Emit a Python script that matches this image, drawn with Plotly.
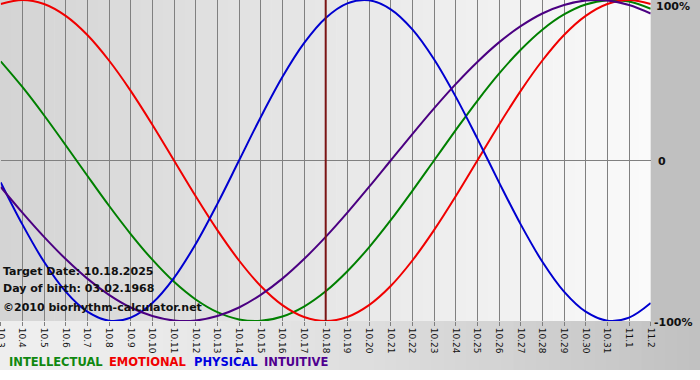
import plotly.graph_objects as go

W, H = 700, 380

labels = ["10.3", "10.4", "10.5", "10.6", "10.7", "10.8", "10.9", "10.10", "10.11", "10.12",
          "10.13", "10.14", "10.15", "10.16", "10.17", "10.18", "10.19", "10.20", "10.21", "10.22",
          "10.23", "10.24", "10.25", "10.26", "10.27", "10.28", "10.29", "10.30", "10.31", "11.1", "11.2"]

physical = [-0.136, -0.398, -0.631, -0.817, -0.942, -0.998, -0.979, -0.888, -0.731, -0.520,
            -0.270, 0.0, 0.270, 0.520, 0.731, 0.888, 0.979, 0.998, 0.942, 0.817,
            0.631, 0.398, 0.136, -0.136, -0.398, -0.631, -0.817, -0.942, -0.998, -0.979, -0.888]
emotional = [0.975, 1.0, 0.975, 0.901, 0.782, 0.623, 0.434, 0.223, 0.0, -0.223,
             -0.434, -0.623, -0.782, -0.901, -0.975, -1.0, -0.975, -0.901, -0.782, -0.623,
             -0.434, -0.223, 0.0, 0.223, 0.434, 0.623, 0.782, 0.901, 0.975, 1.0, 0.975]
intellectual = [0.618, 0.458, 0.282, 0.095, -0.095, -0.282, -0.458, -0.618, -0.756, -0.866,
                -0.945, -0.990, -0.999, -0.972, -0.910, -0.815, -0.690, -0.541, -0.372, -0.189,
                0.0, 0.189, 0.372, 0.541, 0.690, 0.815, 0.910, 0.972, 0.999, 0.990, 0.945]
intuitive = [-0.165, -0.325, -0.476, -0.614, -0.736, -0.837, -0.916, -0.969, -0.997, -0.997,
             -0.969, -0.916, -0.837, -0.736, -0.614, -0.476, -0.325, -0.165, 0.0, 0.165,
             0.325, 0.476, 0.614, 0.736, 0.837, 0.916, 0.969, 0.997, 0.997, 0.969, 0.916]

target_date = "10.18"
y_tick_vals = [-1, 0, 1]
y_tick_text = ["-100%", "0", "100%"]

series = [
    ("INTELLECTUAL", intellectual, "#008000"),
    ("EMOTIONAL", emotional, "#f00000"),
    ("PHYSICAL", physical, "#0000d0"),
    ("INTUITIVE", intuitive, "#4b0082"),
]
legend_colors = {"INTELLECTUAL": "#108810", "EMOTIONAL": "#f00000",
                 "PHYSICAL": "#0000e0", "INTUITIVE": "#500090"}

FONT = "DejaVu Sans"

# pixel geometry of plot area
PX0, PX1 = 0.7, 650.7
PY0, PY1 = 0, 321
BOTTOM_END = 370

def px(x):
    return x / W

def py(y):
    return 1 - y / H

fig = go.Figure()

for name, vals, col in series:
    fig.add_trace(go.Scatter(x=labels, y=vals, mode="lines", name=name,
                             line=dict(color=col, width=2, shape="spline", smoothing=1.0),
                             hoverinfo="skip"))

shapes = []

def lerp_color(c0, c1, t):
    return "rgb({},{},{})".format(*[round(a + (b - a) * t) for a, b in zip(c0, c1)])

# plot-area horizontal gradient
N = 60
c_left, c_right = (212, 212, 212), (250, 250, 250)
for i in range(N):
    x0 = PX1 * i / N
    x1 = PX1 * (i + 1) / N + 0.6
    shapes.append(dict(type="rect", xref="paper", yref="paper", layer="below",
                       x0=px(x0), x1=px(x1), y0=py(PY1), y1=py(PY0),
                       line=dict(width=0), fillcolor=lerp_color(c_left, c_right, (i + 0.5) / N)))
# right panel
shapes.append(dict(type="rect", xref="paper", yref="paper", layer="below",
                   x0=px(PX1), x1=1, y0=py(PY1), y1=1,
                   line=dict(width=0), fillcolor="#c0c0c0"))
# bottom gradient
b_left, b_right = (238, 238, 238), (192, 192, 192)
for i in range(N):
    x0 = W * i / N
    x1 = W * (i + 1) / N + 0.6
    t = (i + 0.5) / N
    shapes.append(dict(type="rect", xref="paper", yref="paper", layer="below",
                       x0=px(x0), x1=px(min(x1, W)), y0=py(BOTTOM_END), y1=py(PY1),
                       line=dict(width=0), fillcolor=lerp_color(b_left, b_right, t ** 1.6)))

# target date line
shapes.append(dict(type="line", xref="x", yref="paper", layer="above",
                   x0=labels.index(target_date), x1=labels.index(target_date),
                   y0=py(PY1), y1=py(PY0), line=dict(color="#7a1414", width=2)))

annotations = []
# y labels on the right
y_label_pix = {1: 7, 0: 161, -1: 322}
y_label_x = {1: 654, 0: 656, -1: 652}
for v, t in zip(y_tick_vals, y_tick_text):
    annotations.append(dict(xref="paper", yref="paper", x=px(y_label_x[v]), y=py(y_label_pix[v]),
                            xanchor="left", yanchor="middle", showarrow=False, text="<b>%s</b>" % t,
                            font=dict(family=FONT, size=11, color="#111111")))

info = [("Target Date: 10.18.2025", 271), ("Day of birth: 03.02.1968", 288),
        ("©2010 biorhythm-calculator.net", 307)]
for txt, yy in info:
    annotations.append(dict(xref="paper", yref="paper", x=px(1), y=py(yy),
                            xanchor="left", yanchor="middle", showarrow=False, text="<b>%s</b>" % txt,
                            font=dict(family=FONT, size=11, color="#111111")))

legend_x = [7, 107, 192, 262]
for (name, _, _), lx in zip(series, legend_x):
    annotations.append(dict(xref="paper", yref="paper", x=px(lx), y=py(362),
                            xanchor="left", yanchor="middle", showarrow=False, text="<b>%s</b>" % name,
                            font=dict(family=FONT, size=11.5, color=legend_colors[name])))

fig.update_layout(
    width=W, height=H,
    margin=dict(l=0, r=0, t=0, b=0, pad=0, autoexpand=False),
    paper_bgcolor="white",
    plot_bgcolor="rgba(0,0,0,0)",
    showlegend=False,
    shapes=shapes,
    annotations=annotations,
    xaxis=dict(domain=[px(PX0), px(PX1)], type="category", range=[0, len(labels) - 1],
               automargin=False,
               showgrid=True, gridcolor="#808080", gridwidth=1,
               ticks="outside", ticklen=4, tickcolor="#808080",
               tickangle=90, tickfont=dict(family=FONT, size=9, color="#111111"),
               showline=False, zeroline=False, fixedrange=True),
    yaxis=dict(domain=[py(PY1), py(PY0)], range=[-1, 1], tickvals=y_tick_vals,
               automargin=False,
               showticklabels=False, showgrid=True, gridcolor="#808080", gridwidth=1,
               zeroline=False, showline=False, ticks="", fixedrange=True),
)

fig.write_html("out.html", config={"displayModeBar": False},
               post_script="document.body.style.margin='0';document.body.style.overflow='hidden';")
